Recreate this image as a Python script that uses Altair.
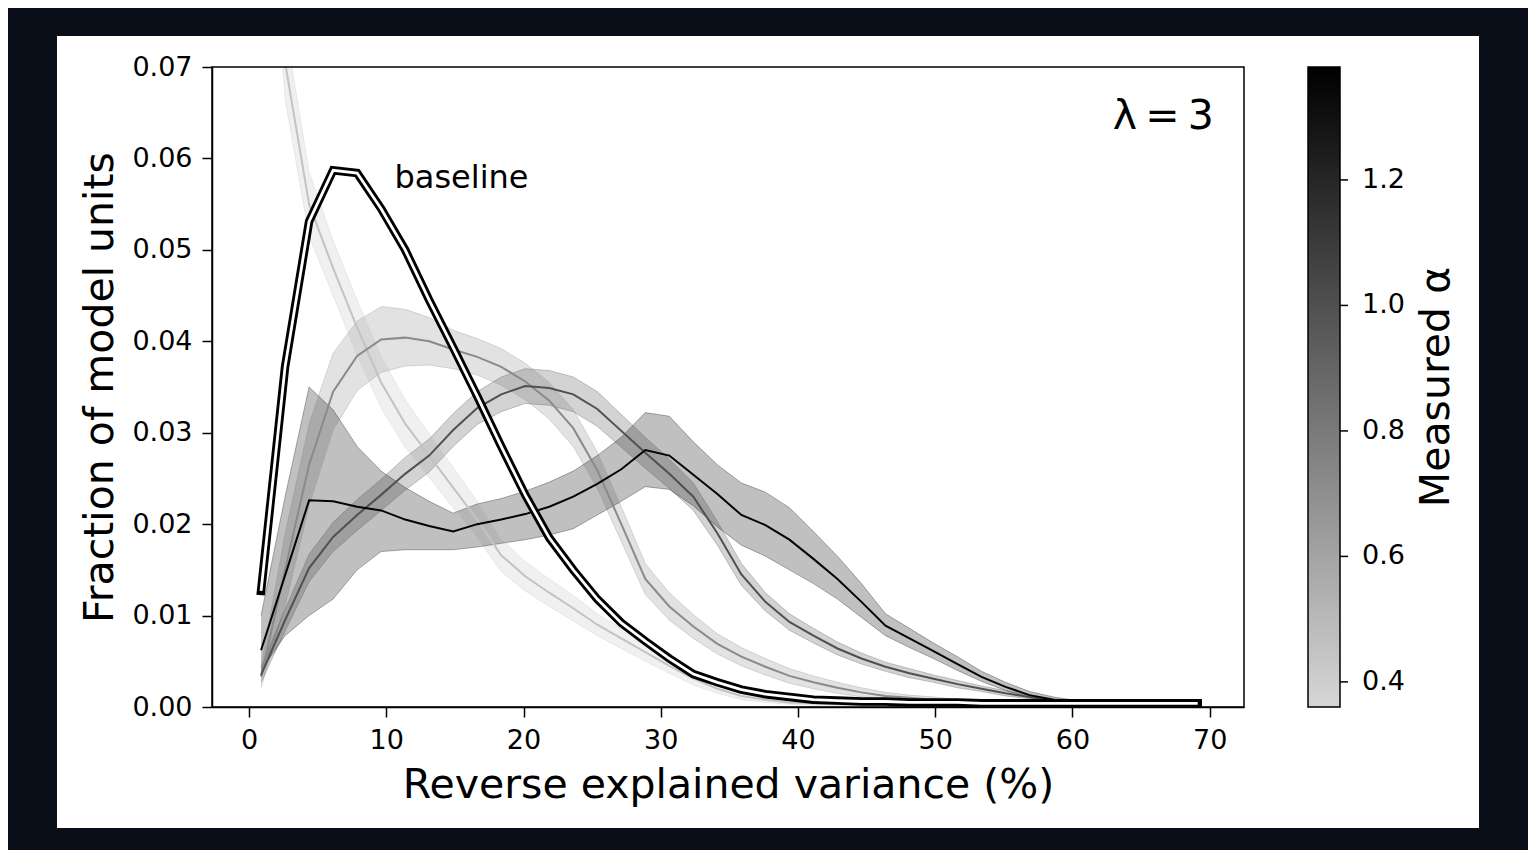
import altair as alt
import pandas as pd

# ---------------- data ----------------
x_bins = [0.875, 2.625, 4.375, 6.125, 7.875, 9.625, 11.375, 13.125, 14.875, 16.625,
          18.375, 20.125, 21.875, 23.625, 25.375, 27.125, 28.875, 30.625, 32.375, 34.125,
          35.875, 37.625, 39.375, 41.125, 42.875, 44.625, 46.375, 48.125, 49.875, 51.625,
          53.375, 55.125, 56.875, 58.625, 60.375, 62.125, 63.875, 65.625, 67.375, 69.125]

baseline = [0.0127, 0.0372, 0.0531, 0.0587, 0.0584, 0.0545, 0.0500, 0.0445, 0.0393, 0.0340,
            0.0285, 0.0232, 0.0185, 0.0150, 0.0118, 0.0092, 0.0072, 0.0053, 0.0036, 0.0027,
            0.0019, 0.0014, 0.0011, 0.0008, 0.0007, 0.0006, 0.0006, 0.0005, 0.0005, 0.0005,
            0.0004, 0.0004, 0.0004, 0.0004, 0.0004, 0.0004, 0.0004, 0.0004, 0.0004, 0.0004]

# measured alpha of each curve (colour bar value)
alpha_values = [0.45, 0.72, 1.00, 1.36]
series_names = ["s1", "s2", "s3", "s4"]

s1_y = [0.1050, 0.0705, 0.0550, 0.0480, 0.0415, 0.0355, 0.0310, 0.0275, 0.0240, 0.0205,
        0.0166, 0.0143, 0.0125, 0.0108, 0.0090, 0.0075, 0.0060, 0.0045, 0.0031, 0.0020,
        0.0012, 0.0008, 0.0005, 0.0004, 0.0003, 0.0003, 0.0002, 0.0002, 0.0002, 0.0002,
        0.0002, 0.0002, 0.0002, 0.0002, 0.0002, 0.0002, 0.0002, 0.0002, 0.0002, 0.0002]
s1_hw = [0.0040, 0.0040, 0.0035, 0.0030, 0.0030, 0.0028, 0.0026, 0.0024, 0.0022, 0.0020,
         0.0018, 0.0016, 0.0015, 0.0014, 0.0012, 0.0011, 0.0010, 0.0008, 0.0007, 0.0005,
         0.0004, 0.0003, 0.0002, 0.0002, 0.0001, 0.0001, 0.0001, 0.0001, 0.0001, 0.0001,
         0.0001, 0.0001, 0.0001, 0.0001, 0.0001, 0.0001, 0.0001, 0.0001, 0.0001, 0.0001]

s2_y = [0.0033, 0.0150, 0.0265, 0.0345, 0.0384, 0.0402, 0.0404, 0.0400, 0.0391, 0.0383,
        0.0372, 0.0356, 0.0335, 0.0305, 0.0259, 0.0200, 0.0140, 0.0110, 0.0088, 0.0069,
        0.0055, 0.0044, 0.0034, 0.0027, 0.0021, 0.0016, 0.0012, 0.0010, 0.0008, 0.0006,
        0.0005, 0.0004, 0.0004, 0.0003, 0.0003, 0.0003, 0.0003, 0.0003, 0.0003, 0.0003]
s2_hw = [0.0012, 0.0040, 0.0045, 0.0042, 0.0038, 0.0036, 0.0031, 0.0026, 0.0021, 0.0020,
         0.0020, 0.0020, 0.0020, 0.0020, 0.0020, 0.0019, 0.0017, 0.0015, 0.0013, 0.0011,
         0.0010, 0.0009, 0.0008, 0.0007, 0.0006, 0.0005, 0.0004, 0.0003, 0.0003, 0.0002,
         0.0002, 0.0002, 0.0001, 0.0001, 0.0001, 0.0001, 0.0001, 0.0001, 0.0001, 0.0001]

s3_y = [0.0035, 0.0095, 0.0152, 0.0186, 0.0210, 0.0232, 0.0255, 0.0275, 0.0303, 0.0327,
        0.0342, 0.0351, 0.0349, 0.0342, 0.0326, 0.0302, 0.0278, 0.0255, 0.0230, 0.0190,
        0.0145, 0.0115, 0.0093, 0.0078, 0.0064, 0.0053, 0.0044, 0.0037, 0.0031, 0.0025,
        0.0020, 0.0015, 0.0011, 0.0007, 0.0005, 0.0003, 0.0003, 0.0003, 0.0003, 0.0003]
s3_hw = [0.0008, 0.0012, 0.0015, 0.0016, 0.0017, 0.0017, 0.0018, 0.0018, 0.0018, 0.0018,
         0.0019, 0.0019, 0.0019, 0.0019, 0.0019, 0.0018, 0.0017, 0.0016, 0.0015, 0.0013,
         0.0012, 0.0010, 0.0009, 0.0008, 0.0007, 0.0006, 0.0005, 0.0005, 0.0004, 0.0004,
         0.0003, 0.0003, 0.0002, 0.0002, 0.0001, 0.0001, 0.0001, 0.0001, 0.0001, 0.0001]

s4_y = [0.0062, 0.0144, 0.0226, 0.0225, 0.0219, 0.0215, 0.0205, 0.0198, 0.0192, 0.0200,
        0.0205, 0.0211, 0.0219, 0.0230, 0.0244, 0.0260, 0.0281, 0.0275, 0.0254, 0.0233,
        0.0210, 0.0199, 0.0183, 0.0162, 0.0140, 0.0115, 0.0089, 0.0075, 0.0061, 0.0047,
        0.0033, 0.0022, 0.0013, 0.0008, 0.0005, 0.0003, 0.0003, 0.0003, 0.0003, 0.0003]
s4_lo = [0.0040, 0.0078, 0.0100, 0.0118, 0.0150, 0.0170, 0.0172, 0.0172, 0.0172, 0.0175,
         0.0179, 0.0183, 0.0188, 0.0195, 0.0210, 0.0225, 0.0241, 0.0238, 0.0220, 0.0197,
         0.0177, 0.0165, 0.0150, 0.0135, 0.0118, 0.0098, 0.0078, 0.0065, 0.0053, 0.0040,
         0.0028, 0.0018, 0.0010, 0.0006, 0.0003, 0.0002, 0.0002, 0.0002, 0.0002, 0.0002]
s4_hi = [0.0100, 0.0230, 0.0350, 0.0325, 0.0285, 0.0258, 0.0240, 0.0225, 0.0212, 0.0222,
         0.0228, 0.0236, 0.0246, 0.0258, 0.0275, 0.0295, 0.0322, 0.0318, 0.0290, 0.0265,
         0.0245, 0.0235, 0.0218, 0.0192, 0.0165, 0.0135, 0.0102, 0.0086, 0.0070, 0.0055,
         0.0039, 0.0027, 0.0017, 0.0011, 0.0007, 0.0004, 0.0004, 0.0004, 0.0004, 0.0004]

colorbar_domain = [0.36, 1.38]
colorbar_ticks = [0.4, 0.6, 0.8, 1.0, 1.2]
x_ticks = [0, 10, 20, 30, 40, 50, 60, 70]
y_ticks = [0.0, 0.01, 0.02, 0.03, 0.04, 0.05, 0.06, 0.07]

note_text = ["baseline"]
note_x = [10.6]
note_y = [0.0579]
lam_text = ["λ\u2009=\u20093"]
lam_x = [70.3]
lam_y = [0.0645]

# ---------------- tables ----------------
curves = [
    (series_names[0], alpha_values[0], s1_y,
     [max(0.0, a - b) for a, b in zip(s1_y, s1_hw)], [a + b for a, b in zip(s1_y, s1_hw)]),
    (series_names[1], alpha_values[1], s2_y,
     [max(0.0, a - b) for a, b in zip(s2_y, s2_hw)], [a + b for a, b in zip(s2_y, s2_hw)]),
    (series_names[2], alpha_values[2], s3_y,
     [max(0.0, a - b) for a, b in zip(s3_y, s3_hw)], [a + b for a, b in zip(s3_y, s3_hw)]),
    (series_names[3], alpha_values[3], s4_y, s4_lo, s4_hi),
]
rows = []
for name, a, ys, los, his in curves:
    for xv, yv, lo, hi in zip(x_bins, ys, los, his):
        rows.append({"series": name, "alpha": a, "x": xv, "y": yv, "lo": lo, "hi": hi})
df = pd.DataFrame(rows)
base_df = pd.DataFrame({"x": x_bins, "y": baseline})
note_df = pd.DataFrame({"x": note_x, "y": note_y, "t": note_text})
lam_df = pd.DataFrame({"x": lam_x, "y": lam_y, "t": lam_text})
cbt_df = pd.DataFrame({"v": colorbar_ticks})

# ---------------- scales / encodings ----------------
FONT = "DejaVu Sans"
W, H = 1032, 640
xs = alt.Scale(domain=[-2.7, 72.5], nice=False, zero=False)
ysc = alt.Scale(domain=[0, 0.07], nice=False, zero=False)
cs = alt.Scale(domain=colorbar_domain, range=["#d6d6d6", "#000000"], interpolate="rgb")

x_axis = alt.Axis(values=x_ticks, format="d", title="Reverse explained variance (%)",
                  grid=False, zindex=1)
y_axis = alt.Axis(values=y_ticks, format=".2f", title="Fraction of model units",
                  grid=False, zindex=1)


def X(field="x"):
    return alt.X(f"{field}:Q", scale=xs, axis=x_axis)


def Y(field="y"):
    return alt.Y(f"{field}:Q", scale=ysc, axis=y_axis)


legend = alt.Legend(
    title=None, orient="right", offset=64, padding=0, direction="vertical", type="gradient",
    gradientLength=H, gradientThickness=32, gradientStrokeColor="black",
    gradientStrokeWidth=1.5, gradientOpacity=1, values=colorbar_ticks, format=".1f",
    labelFontSize=27, labelOffset=22, labelColor="black", labelFont=FONT, zindex=1,
)
C_leg = alt.Color("alpha:Q", scale=cs, legend=legend)
C = alt.Color("alpha:Q", scale=cs, legend=None)

panel = alt.Chart(pd.DataFrame({"p": [1]})).mark_rect(color="white").encode(
    x=alt.value(-155), x2=alt.value(1267), y=alt.value(-31), y2=alt.value(761)
)

bands = alt.Chart(df).mark_area(opacity=0.25, clip=True).encode(
    x=X(), y=Y("lo"), y2="hi:Q", color=C_leg, detail="series:N"
)
edge_lo = alt.Chart(df).mark_line(opacity=0.3, strokeWidth=1, clip=True).encode(
    x=X(), y=Y("lo"), color=C, detail="series:N"
)
edge_hi = alt.Chart(df).mark_line(opacity=0.3, strokeWidth=1, clip=True).encode(
    x=X(), y=Y("hi"), color=C, detail="series:N"
)
lines = alt.Chart(df).mark_line(strokeWidth=2, clip=True).encode(
    x=X(), y=Y(), color=C, detail="series:N"
)
base_outer = alt.Chart(base_df).mark_line(
    color="black", strokeWidth=8.5, strokeCap="square", clip=True
).encode(x=X(), y=Y())
base_inner = alt.Chart(base_df).mark_line(
    color="white", strokeWidth=2.8, strokeCap="butt", clip=True
).encode(x=X(), y=Y())

note = alt.Chart(note_df).mark_text(
    align="left", baseline="middle", fontSize=32, font=FONT, color="black"
).encode(x=X(), y=Y(), text="t:N")
lam = alt.Chart(lam_df).mark_text(
    align="right", baseline="middle", fontSize=41, font=FONT, color="black"
).encode(x=X(), y=Y(), text="t:N")

frame = alt.Chart(pd.DataFrame({"f": [1]})).mark_rect(
    fillOpacity=0, stroke="black", strokeWidth=1.5
).encode(x=alt.value(0), x2=alt.value(W), y=alt.value(0), y2=alt.value(H))

# colour-bar tick marks, placed with the colour bar's own linear mapping
cb_lo, cb_hi = colorbar_domain
cbar_ticks = alt.Chart(cbt_df).transform_calculate(
    py=f"{H} * ({cb_hi} - datum.v) / ({cb_hi} - {cb_lo})"
).mark_rule(color="black", strokeWidth=1.5).encode(
    x=alt.value(W + 96), x2=alt.value(W + 104), y=alt.Y("py:Q", scale=None, axis=None)
)

cbar_title = alt.Chart(pd.DataFrame({"t": ["Measured α"]})).mark_text(
    angle=270, fontSize=41, font=FONT, align="center", baseline="middle", color="black"
).encode(x=alt.value(1225), y=alt.value(320), text="t:N")

chart = alt.layer(
    panel, bands, edge_lo, edge_hi, lines, base_outer, base_inner, note, lam, frame,
    cbar_ticks, cbar_title
).resolve_legend(
    color="independent"
).properties(
    width=W, height=H,
    padding={"left": 204, "top": 59, "right": 284, "bottom": 143},
    autosize=alt.AutoSizeParams(type="none"),
).configure(
    background="#0a0e18", font=FONT
).configure_view(
    strokeWidth=0
).configure_axis(
    labelFont=FONT, titleFont=FONT, labelFontSize=27, titleFontSize=41,
    labelColor="black", titleColor="black", titleFontWeight="normal",
    domainColor="black", tickColor="black", domainWidth=1.5, tickWidth=1.5,
    tickSize=10, labelPadding=10,
).configure_axisX(
    titlePadding=12
).configure_axisY(
    titlePadding=10
)

chart.save("out.html", embed_options={"renderer": "svg", "actions": False})
